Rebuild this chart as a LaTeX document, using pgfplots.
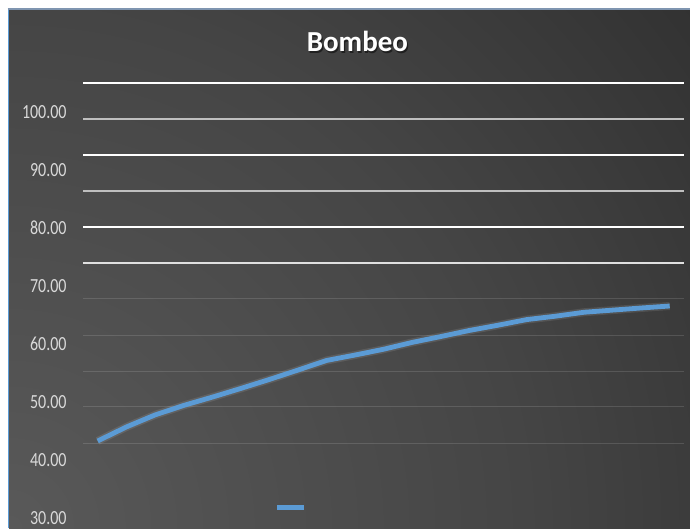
\documentclass[border=0pt]{standalone}
\usepackage{fontspec}
\setmainfont{Carlito}
\newfontfamily\tickfont[FakeStretch=0.8]{Carlito}
\usepackage{pgfplots}
\pgfplotsset{compat=1.18}
\definecolor{linecol}{HTML}{5B9BD5}
\definecolor{bgA}{HTML}{595959}
\definecolor{bgB}{HTML}{454545}
\definecolor{bgC}{HTML}{323232}
\definecolor{bgD}{HTML}{262626}
\definecolor{bgE}{HTML}{1D1D1D}
\definecolor{ticklab}{HTML}{D9D9D9}
\definecolor{leftb}{HTML}{5B9BD5}
\definecolor{topb}{HTML}{7F95B0}
\pgfdeclareradialshading{bgshade}{\pgfpointorigin}{color(0bp)=(bgA); color(15bp)=(bgB); color(25bp)=(bgC); color(40bp)=(bgD); color(50bp)=(bgE)}
\pgfplotstableread{
x y
0 43.28
1 45.69
2 47.76
3 49.40
4 50.83
5 52.33
6 53.88
7 55.50
8 57.16
9 58.10
10 59.10
11 60.28
12 61.29
13 62.34
14 63.24
15 64.21
16 64.79
17 65.47
18 65.84
19 66.21
20 66.55
}\bombeo
\begin{document}
\begin{tikzpicture}[x=1pt,y=1pt]
\useasboundingbox (0,0) rectangle (690,528);
\fill[white] (0,0) rectangle (690,528);
\begin{scope}
\clip (9,0) rectangle (690,518);
\fill[bgE] (9,0) rectangle (690,518);
\shade[shading=bgshade] (9,0) circle (860);
\end{scope}
\draw[leftb, line width=1.5pt] (8.25,0) -- (8.25,519);
\draw[topb, line width=1.5pt] (7.5,518.75) -- (690,518.75);
\node[anchor=base, text=black, opacity=0.5, font=\fontsize{29}{34}\selectfont\bfseries] at (358.6,474.8) {Bombeo};
\node[anchor=base, text=white, font=\fontsize{29}{34}\selectfont\bfseries] at (357.4,476) {Bombeo};
\begin{axis}[
  at={(83.4pt,0pt)}, anchor=south west,
  scale only axis, width=600.6pt, height=445pt,
  xmin=-0.5, xmax=20.5, ymin=28.276, ymax=105,
  axis line style={draw=none},
  xtick=\empty,
  ytick={42.93,49.14,55.34,61.55,67.76},
  yticklabels={,,,,},
  ymajorgrids,
  major grid style={white, opacity=0.13, line width=1pt},
  tick style={draw=none},
  major tick length=0pt,
  extra y ticks={30,40,50,60,70,80,90,100},
  extra y tick labels={30.00,40.00,50.00,60.00,70.00,80.00,90.00,100.00},
  extra y tick style={grid=none},
  yticklabel style={font=\tickfont\fontsize{20}{24}\selectfont, text=ticklab, anchor=east, inner sep=0pt, xshift=-16.6pt},
  clip=false,
  legend style={at={(0.3457,0.0456)}, anchor=center, draw=none, fill=none, inner sep=0pt, nodes={inner sep=0pt}},
  legend image code/.code={\draw[#1, line width=5.5pt] (-13.5pt,0) -- (13.5pt,0);},
]
\draw[white, line width=1.3pt] (axis cs:-0.5,105) -- (axis cs:20.5,105);
\draw[white!75!black, line width=1.3pt] (axis cs:-0.5,98.79) -- (axis cs:20.5,98.79);
\draw[white, line width=1.3pt] (axis cs:-0.5,92.59) -- (axis cs:20.5,92.59);
\draw[white!75!black, line width=1.3pt] (axis cs:-0.5,86.38) -- (axis cs:20.5,86.38);
\draw[white, line width=1.3pt] (axis cs:-0.5,80.17) -- (axis cs:20.5,80.17);
\draw[white!88!black, line width=1.3pt] (axis cs:-0.5,73.97) -- (axis cs:20.5,73.97);
\addplot[white, opacity=0.1, line width=8pt, line join=round, forget plot] table[x=x,y=y] {\bombeo};
\addplot[linecol, line width=4.8pt, line join=round] table[x=x,y=y] {\bombeo};
\addlegendentry{}
\end{axis}
\end{tikzpicture}
\end{document}
